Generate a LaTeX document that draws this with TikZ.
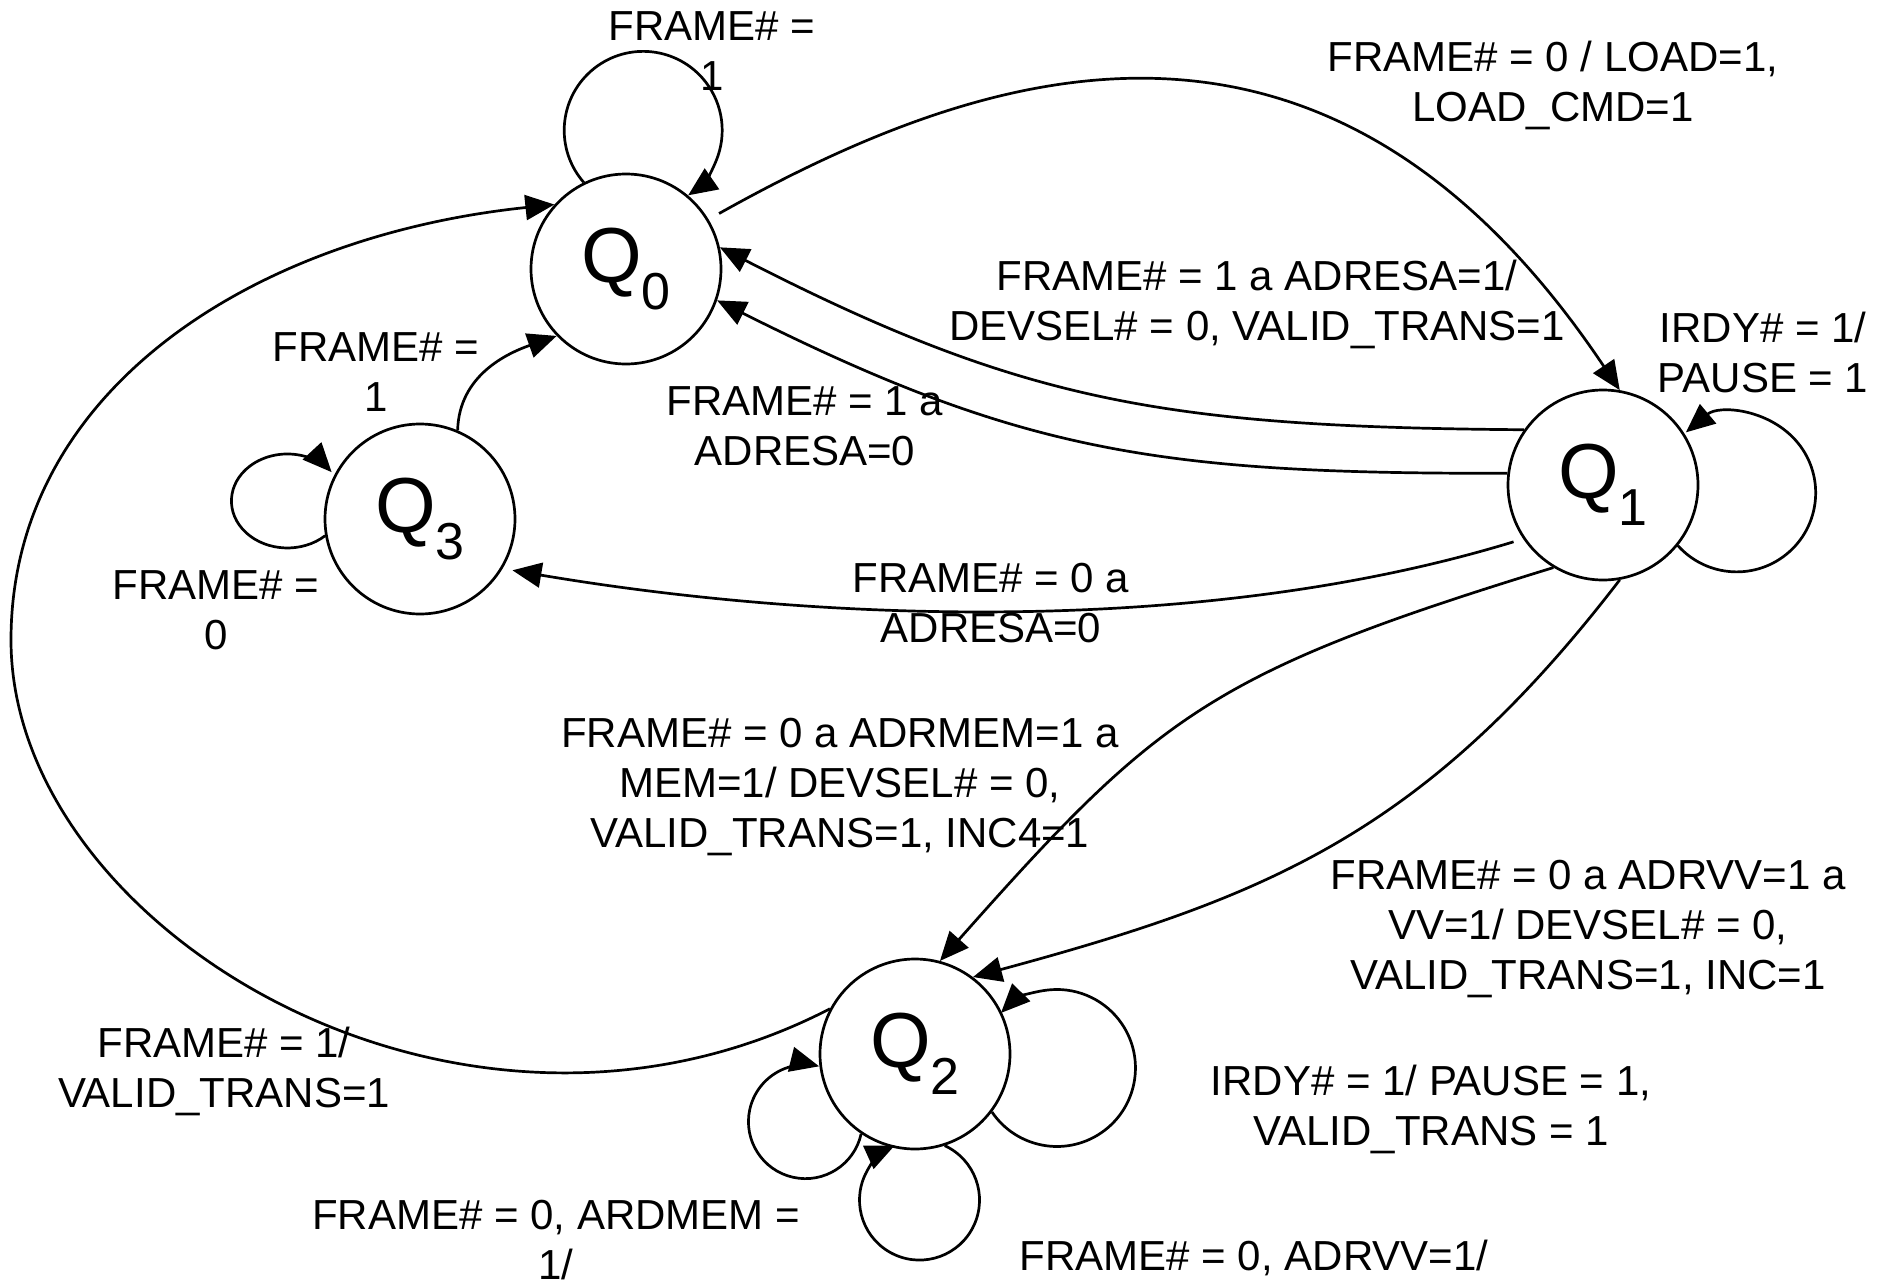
\documentclass[tikz,border=0pt]{standalone}
\usepackage{fontspec}
\setmainfont{Liberation Sans}
\usetikzlibrary{arrows.meta}

% state name: big Q with a lowered index
\newcommand{\statename}[1]{Q\raisebox{-13.5pt}{\fontsize{26}{26}\selectfont #1}}

\begin{document}
\begin{tikzpicture}[x=0.5pt, y=-0.5pt,
  state/.style={draw, circle, line width=1.35pt, minimum size=95pt, inner sep=0pt,
                font=\fontsize{39}{39}\selectfont},
  lbl/.style={align=center, inner sep=0pt, font=\fontsize{21}{25}\selectfont},
  edge/.style={line width=1.35pt, -{Triangle[length=14.5pt,width=12.5pt]}}
]
\useasboundingbox (0,0) rectangle (1886,1285);

% states
\node[state] (q0) at (626,269)  {\statename{0}};
\node[state] (q1) at (1603,485) {\statename{1}};
\node[state] (q2) at (915,1054) {\statename{2}};
\node[state] (q3) at (420,519)  {\statename{3}};

\coordinate (farleft) at (11,640);

% transitions between states
\draw[edge, shorten <=6pt] (q0.31) .. controls (988,63) and (1327,-47) .. (q1.80.5);
\draw[edge] (q1.145) .. controls (1164,427) and (1022,402) .. (q0.13.5);
\draw[edge] (q1.173.5) .. controls (1157,474) and (1020,452) .. (q0.341.4);
\draw[edge, shorten <=5pt, shorten >=5pt] (q1.214.6) .. controls (1202,637) and (818,622) .. (q3.329);
\draw[edge] (q1.239.7) .. controls (1210,673) and (1158,715) .. (q2.75);
\draw[edge] (q1.280.7) .. controls (1426,832) and (1269,897) .. (q2.53.7);
\draw[edge] (q2.152.4) .. controls (460,1200) and (11,930) .. (farleft)
                       .. controls (11,390) and (253,236) .. (q0.138.7);
\draw[edge] (q3.67) .. controls (459,375) and (508,353) .. (q0.224);

% self loops
\draw[edge] (q0.116.6) arc[start angle=221.2, end angle=-55.3, radius=39.5pt];
\draw[edge] (q1.321) arc[start angle=221.9, end angle=490, radius=39.5pt];
\draw[edge] (q2.323.1) arc[start angle=214.1, end angle=495.5, radius=39.25pt];
\draw[edge] (q2.236.5) arc[start angle=-12.4, end angle=-283.9, radius=28.5pt];
\draw[edge] (q2.288.1) arc[start angle=65.1, end angle=-245.6, radius=30pt];
\draw[edge] (q3.190.3) arc[start angle=-47.7, end angle=-322.2, x radius=28pt, y radius=23.5pt];

% transition labels
\node[lbl] (lblA) at (712,51)    {FRAME\# =\\1};
\node[lbl] (lblB) at (1553,85)   {FRAME\# = 0 / LOAD=1,\\LOAD\_CMD=1};
\node[lbl] (lblC) at (1257,304)  {FRAME\# = 1 a ADRESA=1/\\DEVSEL\# = 0, VALID\_TRANS=1};
\node[lbl] (lblD) at (1763,352)  {IRDY\# = 1/\\PAUSE = 1};
\node[lbl] (lblE) at (376,372)   {FRAME\# =\\1};
\node[lbl] (lblF) at (805,426)   {FRAME\# = 1 a\\ADRESA=0};
\node[lbl] (lblG) at (216,610)   {FRAME\# =\\0};
\node[lbl] (lblH) at (991,603)   {FRAME\# = 0 a\\ADRESA=0};
\node[lbl] (lblI) at (840,787)   {FRAME\# = 0 a ADRMEM=1 a\\MEM=1/ DEVSEL\# = 0,\\VALID\_TRANS=1, INC4=1};
\node[lbl] (lblJ) at (1588,929)  {FRAME\# = 0 a ADRVV=1 a\\VV=1/ DEVSEL\# = 0,\\VALID\_TRANS=1, INC=1};
\node[lbl] (lblK) at (224,1071)  {FRAME\# = 1/\\VALID\_TRANS=1};
\node[lbl] (lblL) at (1431,1109) {IRDY\# = 1/ PAUSE = 1,\\VALID\_TRANS = 1};
\node[lbl] (lblM) at (556,1240)  {FRAME\# = 0, ARDMEM =\\1/};
\node[lbl] (lblN) at (1254,1258) {FRAME\# = 0, ADRVV=1/};
\end{tikzpicture}
\end{document}
